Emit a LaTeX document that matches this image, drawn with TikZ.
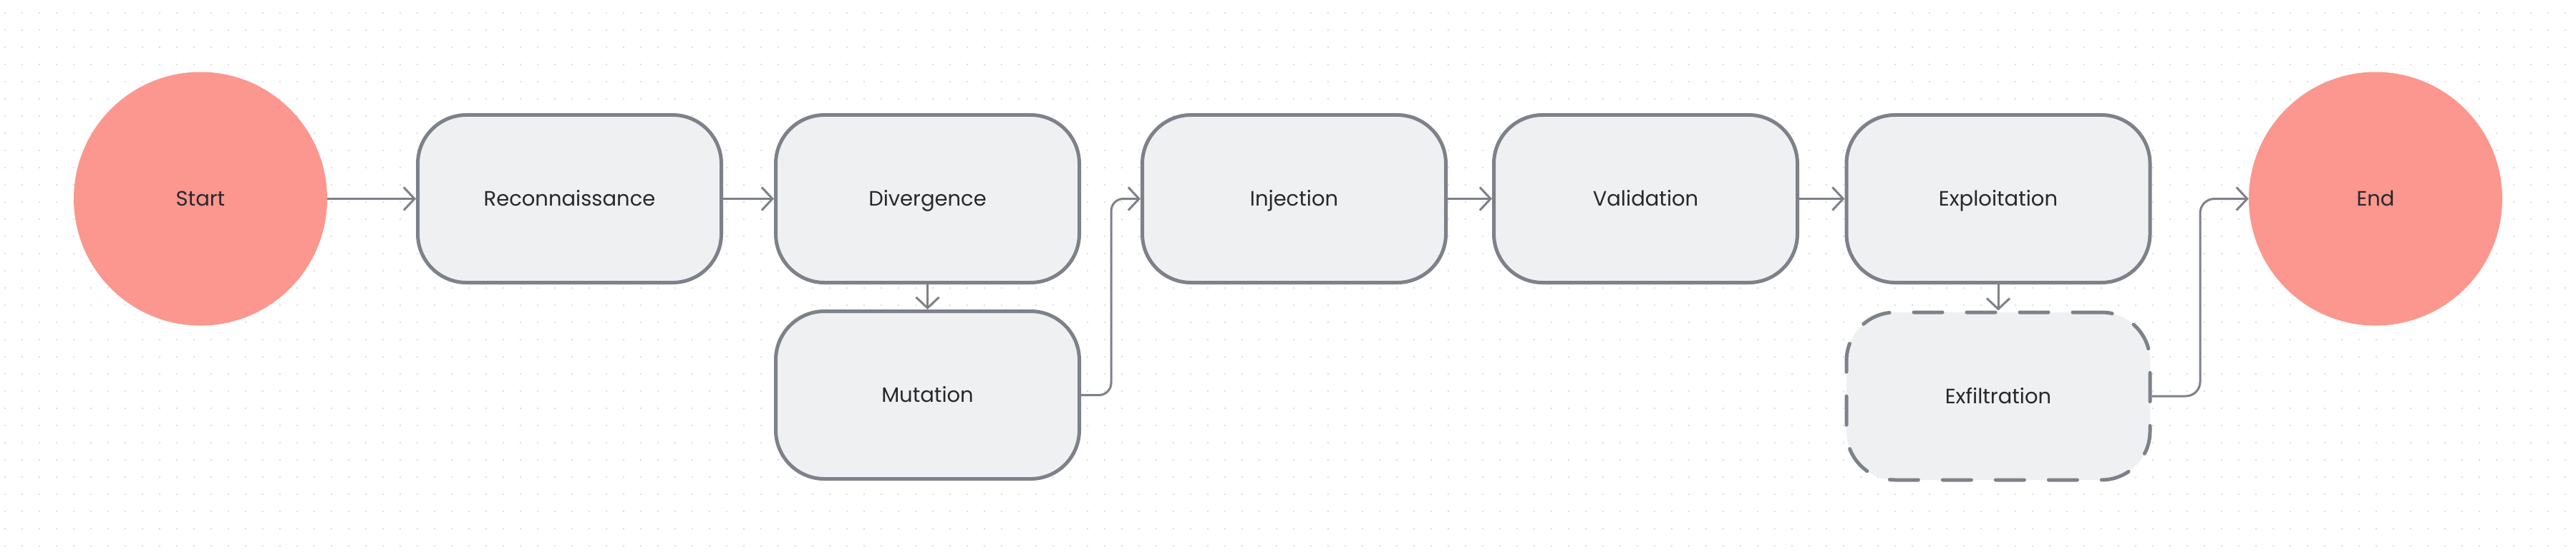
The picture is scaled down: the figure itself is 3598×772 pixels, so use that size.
\documentclass[tikz,border=0pt]{standalone}
\usepackage{fontspec}
\setmainfont{Poppins}
\usetikzlibrary{arrows.meta}
\definecolor{edgegray}{RGB}{125,129,137}
\definecolor{boxfill}{RGB}{239,240,242}
\definecolor{salmon}{RGB}{251,151,142}
\definecolor{dotgray}{RGB}{221,222,228}
\definecolor{txt}{RGB}{40,40,44}
\tikzset{
  stepbox/.style={rectangle, draw=edgegray, fill=boxfill, line width=5bp,
    rounded corners=68bp, minimum width=424bp, minimum height=234bp,
    inner sep=0pt, text=txt, text height=20.5bp, text depth=0pt,
    font=\fontsize{29bp}{34bp}\selectfont},
  dashbox/.style={stepbox, dash pattern=on 40bp off 34bp, line cap=round},
  terminal/.style={circle, fill=salmon, draw=none, minimum size=354bp,
    inner sep=0pt, text=txt, text height=20.5bp, text depth=0pt,
    font=\fontsize{29bp}{34bp}\selectfont},
  conn/.style={draw=edgegray, line width=3bp,
    -{Straight Barb[length=15bp,width=32bp,line width=3bp]}}
}
\begin{document}
\begin{tikzpicture}[x=1bp,y=-1bp]
\useasboundingbox (0,0) rectangle (3598,772);
\fill[white] (0,0) rectangle (3598,772);
% dot grid
\foreach \i in {0,...,149}{
  \foreach \j in {0,...,31}{
    \fill[dotgray] ({7+24*\i},{18+24*\j}) circle (1.4bp);
  }
}
\node[terminal] (start) at (280,277.5) {Start};
\node[stepbox] (recon) at (795.5,277.5) {Reconnaissance};
\node[stepbox] (div) at (1295.5,277.5) {Divergence};
\node[stepbox] (mut) at (1295.5,551.5) {Mutation};
\node[stepbox] (inj) at (1807.5,277.5) {Injection};
\node[stepbox] (val) at (2298.5,277.5) {Validation};
\node[stepbox] (expl) at (2791,277.5) {Exploitation};
\node[dashbox] (exfil) at (2791,553) {Exfiltration};
\node[terminal] (end) at (3318,277.5) {End};
\coordinate (bendA) at (1552,0);
\coordinate (bendB) at (3073,0);
\draw[conn] (start.east) -- (recon.west);
\draw[conn] (recon.east) -- (div.west);
\draw[conn] (div.south) -- (mut.north);
\draw[conn, rounded corners=17bp] (mut.east) -- (mut.east -| bendA) -- (bendA |- inj.west) -- (inj.west);
\draw[conn] (inj.east) -- (val.west);
\draw[conn] (val.east) -- (expl.west);
\draw[conn] (expl.south) -- (exfil.north);
\draw[conn, rounded corners=20bp] (exfil.east) -- (exfil.east -| bendB) -- (bendB |- end.west) -- (end.west);
\end{tikzpicture}
\end{document}
